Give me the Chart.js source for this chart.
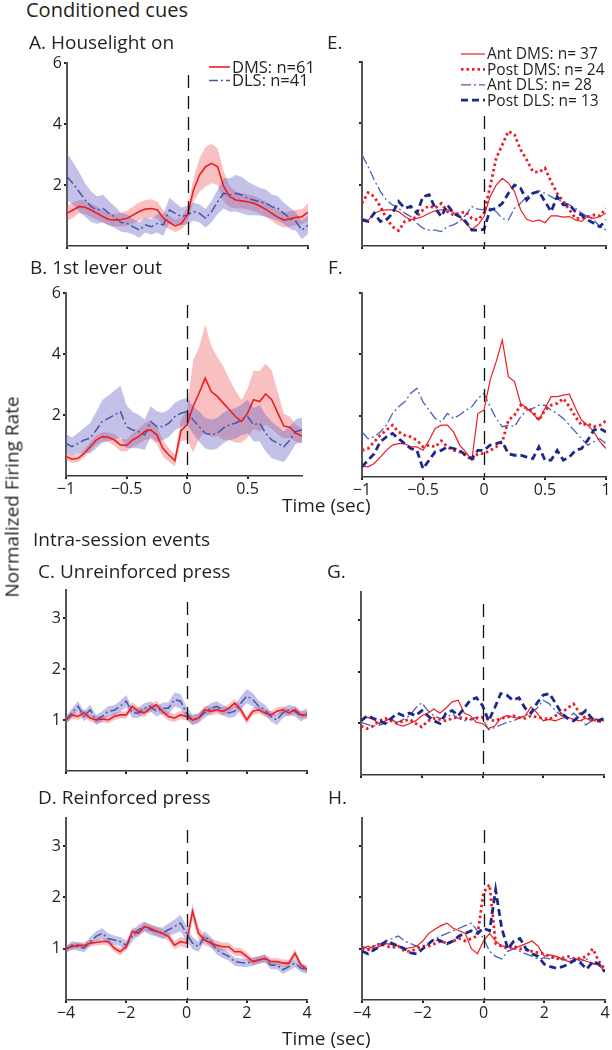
<!DOCTYPE html>
<html>
<head>
<meta charset="utf-8">
<script src="https://cdn.jsdelivr.net/npm/chart.js@4.4.0/dist/chart.umd.min.js"></script>
<style>
html, body { margin: 0; padding: 0; background: #fff; overflow: hidden; }
#fig { position: relative; width: 612px; height: 1050px; font-family: "Open Sans", sans-serif; color: #231f20; }
#fig canvas { position: absolute; }
.lbl { position: absolute; white-space: nowrap; font-size: 19px; line-height: 19px; z-index: 2; }
</style>
</head>
<body>
<div id="fig">
  <canvas id="pA"></canvas>
  <canvas id="pB"></canvas>
  <canvas id="pC"></canvas>
  <canvas id="pD"></canvas>
  <canvas id="pE"></canvas>
  <canvas id="pF"></canvas>
  <canvas id="pG"></canvas>
  <canvas id="pH"></canvas>

  <div class="lbl" style="left:26px;top:0px;font-size:20px;line-height:20px">Conditioned cues</div>
  <div class="lbl" style="left:29px;top:33px">A. Houselight on</div>
  <div class="lbl" style="left:30px;top:258px">B. 1st lever out</div>
  <div class="lbl" style="left:327px;top:33px">E.</div>
  <div class="lbl" style="left:328px;top:258px">F.</div>
  <div class="lbl" style="left:282px;top:496px">Time (sec)</div>
  <div class="lbl" style="left:33px;top:530px">Intra-session events</div>
  <div class="lbl" style="left:38px;top:562px">C. Unreinforced press</div>
  <div class="lbl" style="left:327px;top:562px">G.</div>
  <div class="lbl" style="left:38px;top:788px">D. Reinforced press</div>
  <div class="lbl" style="left:328px;top:788px">H.</div>
  <div class="lbl" style="left:282px;top:1029px">Time (sec)</div>
  <div class="lbl" style="left:12px;top:497px;transform:translate(-50%,-50%) rotate(-90deg)">Normalized Firing Rate</div>
</div>

<script>
// time bins
const tShort = [-1, -0.95, -0.9, -0.85, -0.8, -0.75, -0.7, -0.65, -0.6, -0.55, -0.5, -0.45, -0.4, -0.35, -0.3, -0.25, -0.2, -0.15, -0.1, -0.05,
  0, 0.05, 0.1, 0.15, 0.2, 0.25, 0.3, 0.35, 0.4, 0.45, 0.5, 0.55, 0.6, 0.65, 0.7, 0.75, 0.8, 0.85, 0.9, 0.95, 1];
const tLong = [-4, -3.8, -3.6, -3.4, -3.2, -3, -2.8, -2.6, -2.4, -2.2, -2, -1.8, -1.6, -1.4, -1.2, -1, -0.8, -0.6, -0.4, -0.2,
  0, 0.2, 0.4, 0.6, 0.8, 1, 1.2, 1.4, 1.6, 1.8, 2, 2.2, 2.4, 2.6, 2.8, 3, 3.2, 3.4, 3.6, 3.8, 4];

// tick labels
const xTicksShort = [-1, -0.5, 0, 0.5, 1];
const xTicksB = [-1, -0.5, 0, 0.5];
const xTicksLong = [-4, -2, 0, 2, 4];
const yTicksCue = [2, 4, 6];
const yTicksPress = [1, 2, 3];

// A. Houselight on
const aDMS = [1.07, 1.18, 1.29, 1.27, 1.18, 1.07, 0.96, 0.87, 0.85, 0.87, 0.91, 1.02, 1.13, 1.21, 1.23, 1.18, 0.91, 0.77, 0.66, 0.74,
  1.02, 1.84, 2.33, 2.6, 2.71, 2.6, 1.95, 1.62, 1.51, 1.48, 1.45, 1.4, 1.31, 1.2, 1.07, 0.94, 0.85, 0.89, 0.94, 0.96, 1.11];
const aDMSsem = [0.25, 0.25, 0.22, 0.22, 0.22, 0.22, 0.2, 0.2, 0.2, 0.22, 0.25, 0.28, 0.3, 0.3, 0.3, 0.28, 0.25, 0.22, 0.2, 0.2,
  0.25, 0.4, 0.55, 0.65, 0.65, 0.6, 0.5, 0.35, 0.28, 0.25, 0.25, 0.25, 0.25, 0.25, 0.25, 0.25, 0.25, 0.25, 0.25, 0.25, 0.3];
const aDLS = [2.27, 2.05, 1.78, 1.51, 1.29, 1.18, 1.23, 1.07, 0.94, 0.77, 0.74, 0.63, 0.52, 0.69, 0.63, 0.74, 0.69, 1.18, 1.07, 0.96,
  1.02, 1.13, 1.07, 0.91, 1.13, 1.45, 1.73, 1.67, 1.73, 1.67, 1.56, 1.51, 1.45, 1.4, 1.29, 1.23, 1.07, 0.91, 0.8, 0.52, 0.69];
const aDLSsem = [0.77, 0.7, 0.65, 0.55, 0.5, 0.45, 0.45, 0.4, 0.35, 0.3, 0.3, 0.25, 0.25, 0.25, 0.25, 0.3, 0.35, 0.4, 0.35, 0.3,
  0.3, 0.3, 0.3, 0.3, 0.35, 0.4, 0.5, 0.55, 0.6, 0.6, 0.55, 0.5, 0.45, 0.45, 0.4, 0.4, 0.35, 0.35, 0.3, 0.3, 0.3];

// B. 1st lever out (ends at 0.95 s)
const bDMS = [0.64, 0.55, 0.58, 0.74, 0.96, 1.18, 1.29, 1.27, 1.18, 1.02, 1.0, 1.18, 1.29, 1.46, 1.51, 1.35, 0.91, 0.69, 0.5, 1.49,
  1.68, 2.28, 2.72, 3.21, 2.77, 2.61, 2.39, 2.17, 1.95, 1.79, 2.06, 2.5, 2.44, 2.69, 2.5, 2.06, 1.64, 1.6, 1.4, 1.31];
const bDMSsem = [0.12, 0.12, 0.12, 0.13, 0.15, 0.15, 0.15, 0.15, 0.2, 0.2, 0.2, 0.22, 0.25, 0.28, 0.3, 0.3, 0.28, 0.22, 0.18, 0.35,
  0.5, 1.5, 1.5, 1.75, 1.5, 1.3, 1.2, 1.0, 0.85, 0.7, 0.8, 0.95, 1.0, 1.0, 0.95, 0.7, 0.4, 0.35, 0.28, 0.25];
const bDLS = [1.07, 0.96, 1.07, 1.18, 1.24, 1.51, 1.79, 1.89, 2.0, 2.11, 1.62, 1.51, 1.46, 1.35, 1.79, 1.62, 1.62, 1.73, 1.95, 2.06,
  2.11, 1.84, 1.62, 1.4, 1.35, 1.4, 1.57, 1.68, 1.73, 1.84, 1.95, 1.68, 1.73, 1.4, 1.18, 1.07, 0.96, 1.18, 1.46, 1.51];
const bDLSsem = [0.3, 0.3, 0.35, 0.4, 0.5, 0.6, 0.7, 0.75, 0.8, 0.85, 0.7, 0.6, 0.55, 0.5, 0.5, 0.5, 0.45, 0.45, 0.45, 0.45,
  0.45, 0.45, 0.5, 0.5, 0.5, 0.5, 0.5, 0.5, 0.5, 0.5, 0.55, 0.55, 0.6, 0.6, 0.6, 0.55, 0.5, 0.45, 0.4, 0.4];

// C. Unreinforced press
const cDMS = [1.0, 1.1, 1.07, 1.14, 1.04, 1.0, 1.02, 1.0, 1.07, 1.1, 1.1, 1.27, 1.17, 1.14, 1.23, 1.3, 1.17, 1.07, 1.04, 1.1,
  1.07, 1.0, 1.04, 1.2, 1.17, 1.2, 1.17, 1.23, 1.33, 1.2, 1.0, 1.17, 1.2, 1.14, 1.1, 1.17, 1.2, 1.14, 1.2, 1.1, 1.1];
const cDMSsem = [0.07, 0.07, 0.07, 0.07, 0.07, 0.07, 0.07, 0.07, 0.07, 0.07, 0.07, 0.08, 0.08, 0.08, 0.08, 0.08, 0.08, 0.08, 0.08, 0.08,
  0.08, 0.08, 0.08, 0.08, 0.08, 0.08, 0.08, 0.08, 0.08, 0.08, 0.08, 0.07, 0.07, 0.07, 0.07, 0.07, 0.07, 0.07, 0.07, 0.07, 0.07];
const cDLS = [1.0, 1.14, 1.27, 1.07, 1.2, 1.0, 1.07, 1.17, 1.19, 1.27, 1.37, 1.14, 1.14, 1.23, 1.27, 1.17, 1.23, 1.23, 1.4, 1.37,
  1.14, 1.0, 1.04, 1.14, 1.23, 1.27, 1.2, 1.14, 1.17, 1.33, 1.47, 1.4, 1.27, 1.2, 1.07, 1.0, 1.14, 1.2, 1.17, 1.07, 1.14];
const cDLSsem = [0.08, 0.09, 0.1, 0.1, 0.1, 0.1, 0.1, 0.1, 0.1, 0.11, 0.12, 0.1, 0.1, 0.1, 0.1, 0.1, 0.11, 0.12, 0.14, 0.14,
  0.12, 0.11, 0.1, 0.1, 0.1, 0.1, 0.1, 0.1, 0.11, 0.13, 0.14, 0.13, 0.11, 0.1, 0.1, 0.1, 0.1, 0.1, 0.1, 0.1, 0.09];

// D. Reinforced press
const dDMS = [1.01, 1.04, 1.07, 1.06, 1.11, 1.12, 1.14, 1.14, 1.01, 0.94, 1.04, 1.34, 1.3, 1.43, 1.4, 1.34, 1.3, 1.24, 1.07, 1.14,
  1.11, 1.73, 1.3, 1.17, 1.11, 1.07, 1.04, 1.04, 0.94, 0.94, 0.85, 0.75, 0.78, 0.81, 0.75, 0.75, 0.72, 0.72, 0.91, 0.68, 0.59];
const dDMSsem = [0.06, 0.06, 0.06, 0.06, 0.06, 0.06, 0.06, 0.07, 0.07, 0.07, 0.07, 0.08, 0.08, 0.08, 0.08, 0.08, 0.08, 0.08, 0.08, 0.09,
  0.1, 0.16, 0.12, 0.1, 0.09, 0.09, 0.08, 0.08, 0.08, 0.08, 0.07, 0.07, 0.07, 0.07, 0.07, 0.07, 0.07, 0.07, 0.08, 0.07, 0.06];
const dDLS = [0.98, 1.07, 1.04, 1.01, 1.14, 1.24, 1.3, 1.2, 1.17, 1.14, 1.07, 1.24, 1.37, 1.43, 1.37, 1.34, 1.3, 1.37, 1.43, 1.5,
  1.3, 1.11, 1.04, 1.24, 1.14, 0.98, 0.91, 0.85, 0.75, 0.73, 0.72, 0.75, 0.78, 0.81, 0.68, 0.68, 0.59, 0.65, 0.72, 0.62, 0.59];
const dDLSsem = [0.07, 0.08, 0.08, 0.08, 0.09, 0.1, 0.1, 0.1, 0.09, 0.09, 0.09, 0.1, 0.1, 0.1, 0.1, 0.1, 0.11, 0.12, 0.14, 0.16,
  0.15, 0.12, 0.1, 0.1, 0.1, 0.09, 0.09, 0.08, 0.08, 0.08, 0.08, 0.08, 0.08, 0.08, 0.08, 0.08, 0.08, 0.08, 0.08, 0.08, 0.08];

// E. Houselight on, subregions
const eAntDMS = [0.9, 0.83, 1.07, 1.15, 1.18, 1.18, 1.12, 0.96, 0.85, 0.9, 0.96, 1.07, 1.15, 1.18, 1.18, 1.1, 0.96, 0.74, 0.54, 0.69,
  0.96, 1.61, 1.99, 2.21, 2.05, 1.78, 1.18, 0.87, 0.8, 0.85, 0.76, 0.98, 0.98, 0.94, 0.96, 0.85, 0.8, 0.96, 0.9, 0.96, 1.07];
const ePostDMS = [1.39, 1.74, 1.61, 1.29, 0.9, 0.63, 0.5, 0.8, 0.85, 0.96, 1.18, 1.31, 1.23, 1.39, 1.12, 1.01, 1.07, 1.12, 0.9, 0.85,
  1.07, 1.94, 2.86, 3.3, 3.74, 3.63, 3.14, 2.81, 2.43, 2.4, 2.54, 2.1, 1.72, 1.45, 1.18, 0.9, 0.9, 0.96, 1.01, 0.98, 1.23];
const eAntDLS = [2.97, 2.59, 2.16, 1.78, 1.5, 1.34, 1.23, 1.07, 0.96, 0.74, 0.58, 0.52, 0.52, 0.47, 0.63, 0.69, 0.8, 1.01, 1.29, 1.2,
  1.18, 1.23, 1.12, 0.9, 0.85, 1.23, 1.39, 1.61, 1.72, 1.8, 1.72, 1.61, 1.5, 1.45, 1.34, 1.23, 1.07, 0.96, 0.85, 0.63, 0.52];
const ePostDLS = [0.85, 0.8, 1.07, 0.8, 0.85, 1.07, 1.45, 1.23, 1.29, 1.07, 1.61, 1.67, 1.23, 0.96, 1.34, 1.07, 0.96, 0.8, 0.52, 0.52,
  0.54, 1.18, 1.23, 1.39, 1.72, 1.99, 1.88, 1.5, 1.72, 1.78, 1.45, 1.12, 1.61, 1.34, 1.34, 1.12, 1.01, 0.85, 0.74, 0.63, 0.85];

// F. 1st lever out, subregions
const fAntDMS = [0.35, 0.33, 0.44, 0.65, 0.87, 1.04, 1.09, 1.09, 0.98, 0.98, 0.87, 1.2, 1.58, 1.69, 1.69, 1.47, 1.04, 0.82, 0.55, 2.07,
  2.18, 3.16, 3.76, 4.47, 3.27, 3.11, 2.4, 2.24, 2.07, 1.85, 2.24, 2.62, 2.62, 2.67, 2.7, 2.24, 1.85, 1.69, 1.47, 1.15, 0.93];
const fPostDMS = [0.87, 0.93, 1.15, 1.36, 1.53, 1.69, 1.47, 1.36, 1.31, 1.2, 0.98, 1.04, 0.98, 1.18, 0.98, 0.87, 0.82, 0.71, 0.55, 0.76,
  0.76, 0.87, 0.98, 1.15, 1.85, 2.02, 2.34, 2.24, 2.13, 1.85, 2.18, 2.34, 2.4, 2.56, 2.29, 1.96, 1.69, 1.74, 1.64, 1.69, 1.83];
const fAntDLS = [1.47, 1.25, 1.31, 1.47, 1.69, 2.07, 2.29, 2.45, 2.73, 2.89, 2.45, 2.18, 1.91, 1.8, 2.07, 1.91, 2.02, 2.18, 2.29, 2.56,
  2.73, 2.29, 1.91, 1.64, 1.69, 1.64, 1.96, 2.18, 2.24, 2.34, 2.34, 2.18, 2.07, 1.91, 1.69, 1.47, 1.25, 1.04, 1.15, 1.25, 1.09];
const fPostDLS = [0.33, 0.55, 0.76, 1.15, 1.31, 1.42, 1.25, 1.09, 0.93, 0.87, 0.27, 0.55, 0.82, 0.87, 0.98, 0.93, 0.87, 0.71, 0.6, 0.87,
  0.87, 1.04, 1.09, 1.15, 0.76, 0.71, 0.71, 0.65, 0.6, 0.98, 0.55, 0.55, 0.87, 0.55, 0.65, 0.87, 0.93, 1.2, 1.53, 1.58, 1.47];

// G. Unreinforced press, subregions
const gAntDMS = [1.05, 1.12, 1.08, 1.0, 1.05, 1.1, 0.98, 0.95, 1.0, 1.05, 1.15, 1.2, 1.28, 1.2, 1.3, 1.42, 1.45, 1.2, 1.15, 1.02,
  1.0, 0.9, 0.95, 1.1, 1.15, 1.12, 1.1, 1.15, 1.32, 1.2, 1.05, 1.08, 1.05, 1.1, 1.12, 1.08, 1.05, 1.1, 1.05, 1.08, 1.05];
const gPostDMS = [0.95, 0.9, 0.95, 1.05, 1.1, 1.05, 1.0, 1.05, 1.08, 1.0, 0.93, 1.05, 1.1, 1.08, 1.05, 1.1, 1.12, 1.1, 1.08, 1.1,
  1.12, 1.08, 1.05, 1.1, 1.12, 1.15, 1.12, 1.1, 1.15, 1.12, 1.1, 1.08, 1.15, 1.2, 1.3, 1.38, 1.2, 1.1, 1.08, 1.05, 1.02];
const gAntDLS = [1.02, 0.98, 0.95, 0.97, 1.0, 1.05, 1.02, 1.08, 1.15, 1.3, 1.4, 1.25, 1.15, 1.1, 1.12, 1.18, 1.1, 1.05, 1.08, 1.12,
  1.1, 0.88, 0.92, 0.97, 1.02, 1.05, 1.1, 1.15, 1.2, 1.3, 1.45, 1.38, 1.25, 1.15, 1.1, 1.2, 1.1, 0.97, 1.05, 1.1, 1.05];
const gPostDLS = [1.05, 1.15, 1.1, 1.05, 1.0, 1.1, 1.2, 1.15, 1.2, 1.15, 1.25, 1.15, 1.05, 1.0, 1.2, 1.25, 1.15, 1.3, 1.45, 1.5,
  1.35, 1.05, 1.3, 1.58, 1.55, 1.45, 1.5, 1.3, 1.2, 1.4, 1.55, 1.58, 1.4, 1.2, 1.1, 1.05, 1.15, 1.25, 1.1, 1.05, 1.1];

// H. Reinforced press, subregions
const hAntDMS = [1.0, 1.05, 1.0, 1.05, 1.1, 1.08, 1.05, 1.0, 1.02, 1.05, 1.15, 1.3, 1.38, 1.45, 1.5, 1.4, 1.35, 1.3, 1.0, 0.9,
  1.15, 1.3, 1.15, 1.05, 1.05, 1.0, 1.05, 1.1, 1.15, 1.05, 0.85, 0.88, 0.85, 0.8, 0.75, 0.78, 0.8, 0.75, 0.72, 0.68, 0.55];
const hPostDMS = [1.0, 0.98, 1.05, 1.1, 1.05, 1.02, 1.05, 0.95, 0.95, 1.0, 1.05, 1.05, 1.1, 1.15, 1.1, 1.15, 1.2, 1.15, 1.2, 1.25,
  2.1, 2.25, 1.1, 1.05, 1.0, 1.05, 1.0, 0.98, 0.95, 0.92, 0.9, 0.85, 0.8, 0.82, 0.85, 0.8, 0.82, 0.85, 1.0, 0.75, 0.6];
const hAntDLS = [1.05, 1.0, 1.05, 1.1, 1.15, 1.2, 1.25, 1.15, 1.1, 1.05, 1.0, 1.1, 1.2, 1.25, 1.3, 1.35, 1.4, 1.45, 1.5, 1.35,
  1.2, 0.95, 0.85, 0.8, 0.95, 1.0, 0.95, 0.9, 0.85, 0.8, 0.82, 0.8, 0.85, 0.78, 0.8, 0.82, 0.75, 0.8, 0.7, 0.7, 0.62];
const hPostDLS = [0.95, 0.9, 0.98, 1.05, 1.15, 1.1, 1.05, 1.0, 0.92, 0.9, 1.0, 1.1, 1.2, 1.15, 1.1, 1.15, 1.25, 1.3, 1.35, 1.3,
  1.4, 1.35, 2.15, 1.4, 1.0, 1.15, 1.2, 1.0, 0.9, 0.85, 0.7, 0.65, 0.62, 0.65, 0.7, 0.78, 0.72, 0.6, 0.75, 0.7, 0.55];

const RED = 'rgb(237,28,36)';
const RED_BAND = 'rgba(240,90,95,0.38)';
const BLUE = 'rgb(68,88,168)';
const BLUE_BAND = 'rgba(105,100,195,0.4)';
const ANT_DLS = 'rgb(72,98,182)';
const POST_DLS = 'rgb(28,40,140)';
const INK = '#231f20';

const sty = {
  dms: { color: RED, width: 1.6, dash: [] },
  dls: { color: BLUE, width: 1.5, dash: [9, 3, 2, 3] },
  antDMS: { color: RED, width: 1.2, dash: [] },
  postDMS: { color: RED, width: 2.8, dash: [2.5, 3] },
  antDLS: { color: ANT_DLS, width: 1.3, dash: [10, 3, 2, 3] },
  postDLS: { color: POST_DLS, width: 2.8, dash: [7, 4] }
};

function pts(t, v) { return v.map((y, i) => ({ x: t[i], y: y })); }

function bandSets(t, mean, sem, color) {
  return [
    { data: pts(t, mean.map((m, i) => m - sem[i])), borderWidth: 0, pointRadius: 0, fill: false, order: 10 },
    { data: pts(t, mean.map((m, i) => m + sem[i])), borderWidth: 0, pointRadius: 0, fill: '-1', backgroundColor: color, order: 10 }
  ];
}

function lineSet(t, v, s, order) {
  return { data: pts(t, v), borderColor: s.color, borderWidth: s.width, borderDash: s.dash,
    pointRadius: 0, fill: false, tension: 0, order: order };
}

// dashed reference line at t = 0
const zeroLine = {
  id: 'zeroLine',
  afterDatasetsDraw(chart) {
    const { ctx, chartArea, scales } = chart;
    const x = Math.round(scales.x.getPixelForValue(0)) + 0.5;
    ctx.save();
    ctx.strokeStyle = '#111';
    ctx.lineWidth = 1.3;
    ctx.setLineDash([13, 8]);
    ctx.beginPath();
    ctx.moveTo(x, chartArea.top + 12);
    ctx.lineTo(x, chartArea.bottom);
    ctx.stroke();
    ctx.restore();
  }
};

function legendPlugin(lg) {
  return {
    id: 'panelLegend',
    afterDraw(chart) {
      const { ctx, chartArea } = chart;
      const x0 = chartArea.left + lg.dx, y0 = chartArea.top + lg.dy;
      ctx.save();
      ctx.fillStyle = '#fff';
      ctx.fillRect(x0 - 2, y0 - lg.rowH / 2, lg.w, lg.rowH * lg.items.length + 1);
      ctx.font = lg.font;
      ctx.textBaseline = 'middle';
      lg.items.forEach((it, i) => {
        const y = y0 + i * lg.rowH;
        ctx.strokeStyle = it.s.color;
        ctx.lineWidth = it.s.width;
        ctx.setLineDash(it.s.dash);
        ctx.beginPath();
        ctx.moveTo(x0, y);
        ctx.lineTo(x0 + lg.len, y);
        ctx.stroke();
        ctx.setLineDash([]);
        ctx.fillStyle = INK;
        ctx.fillText(it.text, x0 + lg.len + 2, y + 1);
      });
      ctx.restore();
    }
  };
}

const PAD_L = 50, PAD_T = 26, PAD_R = 5, AX_H = 30;

function panel(id, area, xr, xTicks, showX, yMax, yTicks, showY, datasets, lg) {
  const cv = document.getElementById(id);
  const w = area.r - area.l + PAD_L + PAD_R;
  const h = area.b - area.t + PAD_T + AX_H;
  cv.width = w; cv.height = h;
  cv.style.left = (area.l - PAD_L) + 'px';
  cv.style.top = (area.t - PAD_T) + 'px';
  cv.style.width = w + 'px'; cv.style.height = h + 'px';
  const tickFont = { family: 'Open Sans', size: 16 };
  const plugins = [zeroLine];
  if (lg) plugins.push(legendPlugin(lg));
  new Chart(cv, {
    type: 'line',
    data: { datasets: datasets },
    plugins: plugins,
    options: {
      responsive: false,
      animation: false,
      devicePixelRatio: 1,
      layout: { padding: { left: 0, top: PAD_T, right: PAD_R, bottom: 0 } },
      plugins: { legend: { display: false }, tooltip: { enabled: false } },
      scales: {
        x: {
          type: 'linear', min: xr[0], max: xr[1],
          border: { display: true, color: '#3a3a3a', width: 1.5 },
          grid: { drawOnChartArea: false, drawTicks: true, tickLength: 3, color: '#222', lineWidth: 2 },
          ticks: { display: showX, font: tickFont, color: INK, padding: 1, maxRotation: 0,
            callback: v => String(v).replace('-', '\u2212') },
          afterBuildTicks: s => { s.ticks = xTicks.map(v => ({ value: v })); },
          afterFit: s => { s.height = AX_H; s.paddingLeft = 0; s.paddingRight = 0; }
        },
        y: {
          type: 'linear', min: 0, max: yMax,
          border: { display: true, color: '#555', width: 2 },
          grid: { drawOnChartArea: false, drawTicks: true, tickLength: 3, color: '#222', lineWidth: 2 },
          ticks: { display: showY, font: tickFont, color: INK, padding: 2 },
          afterBuildTicks: s => { s.ticks = yTicks.map(v => ({ value: v })); },
          afterFit: s => { s.width = PAD_L; s.paddingTop = 0; s.paddingBottom = 0; }
        }
      }
    }
  });
}

const tB = tShort.slice(0, bDMS.length);

panel('pA', { l: 67, t: 63, r: 308, b: 246 }, [-1, 1], xTicksShort, false, 6, yTicksCue, true, [
  lineSet(tShort, aDMS, sty.dms, 1), lineSet(tShort, aDLS, sty.dls, 2),
  ...bandSets(tShort, aDLS, aDLSsem, BLUE_BAND), ...bandSets(tShort, aDMS, aDMSsem, RED_BAND)
], { dx: 142, dy: 4, rowH: 13.5, len: 21, w: 108, font: '16.5px "Open Sans"',
  items: [{ s: sty.dms, text: 'DMS: n=61' }, { s: sty.dls, text: 'DLS: n=41' }] });

panel('pB', { l: 66, t: 293, r: 302, b: 476 }, [-1, 0.95], xTicksB, true, 6, yTicksCue, true, [
  lineSet(tB, bDMS, sty.dms, 1), lineSet(tB, bDLS, sty.dls, 2),
  ...bandSets(tB, bDLS, bDLSsem, BLUE_BAND), ...bandSets(tB, bDMS, bDMSsem, RED_BAND)
], null);

panel('pC', { l: 66, t: 590, r: 307, b: 771 }, [-4, 4], xTicksLong, false, 3.55, yTicksPress, true, [
  lineSet(tLong, cDMS, sty.dms, 1), lineSet(tLong, cDLS, sty.dls, 2),
  ...bandSets(tLong, cDLS, cDLSsem, BLUE_BAND), ...bandSets(tLong, cDMS, cDMSsem, RED_BAND)
], null);

panel('pD', { l: 66, t: 818, r: 307, b: 1000 }, [-4, 4], xTicksLong, true, 3.55, yTicksPress, true, [
  lineSet(tLong, dDMS, sty.dms, 1), lineSet(tLong, dDLS, sty.dls, 2),
  ...bandSets(tLong, dDLS, dDLSsem, BLUE_BAND), ...bandSets(tLong, dDMS, dDMSsem, RED_BAND)
], null);

function subSets(t, antDMS, postDMS, antDLS, postDLS) {
  return [
    lineSet(t, postDLS, sty.postDLS, 1), lineSet(t, antDMS, sty.antDMS, 2),
    lineSet(t, postDMS, sty.postDMS, 3), lineSet(t, antDLS, sty.antDLS, 4)
  ];
}

panel('pE', { l: 362, t: 62, r: 606, b: 246 }, [-1, 1], xTicksShort, false, 6, yTicksCue, false,
  subSets(tShort, eAntDMS, ePostDMS, eAntDLS, ePostDLS),
  { dx: 99, dy: -8, rowH: 15.4, len: 24, w: 145, font: '15.5px "Open Sans"',
    items: [{ s: sty.antDMS, text: 'Ant DMS: n= 37' }, { s: sty.postDMS, text: 'Post DMS: n= 24' },
            { s: sty.antDLS, text: 'Ant DLS: n= 28' }, { s: sty.postDLS, text: 'Post DLS: n= 13' }] });

panel('pF', { l: 362, t: 293, r: 606, b: 477 }, [-1, 1], xTicksShort, true, 6, yTicksCue, false,
  subSets(tShort, fAntDMS, fPostDMS, fAntDLS, fPostDLS), null);

panel('pG', { l: 361, t: 592, r: 604, b: 775 }, [-4, 4], xTicksLong, false, 3.55, yTicksPress, false,
  subSets(tLong, gAntDMS, gPostDMS, gAntDLS, gPostDLS), null);

panel('pH', { l: 362, t: 818, r: 605, b: 1000 }, [-4, 4], xTicksLong, true, 3.55, yTicksPress, false,
  subSets(tLong, hAntDMS, hPostDMS, hAntDLS, hPostDLS), null);
</script>
</body>
</html>
